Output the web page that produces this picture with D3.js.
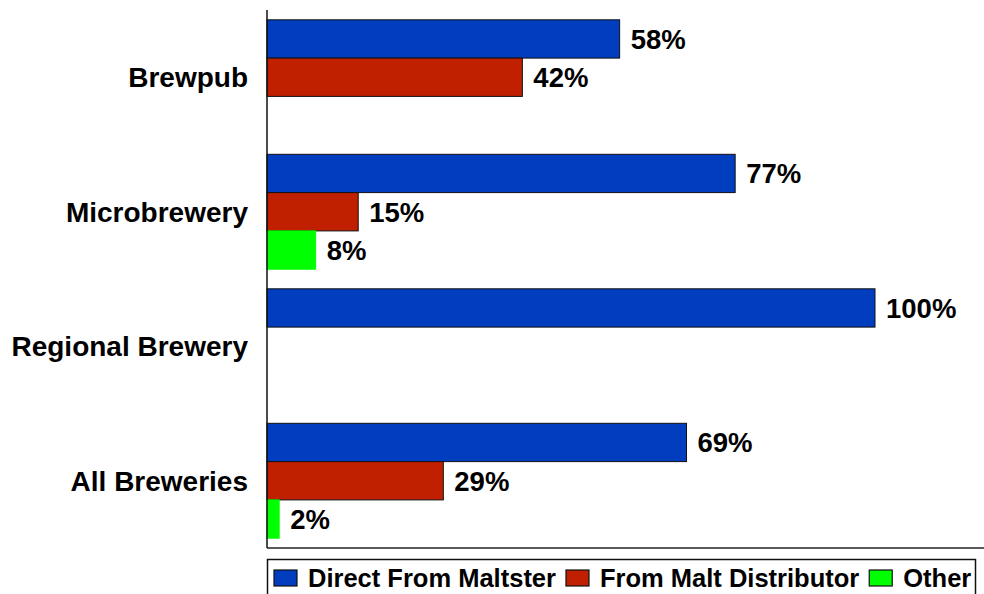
<!DOCTYPE html>
<html><head><meta charset="utf-8">
<script src="https://cdn.jsdelivr.net/npm/d3@7"></script>
<style>html,body{margin:0;padding:0;background:#fff;}svg{display:block;}</style>
</head><body>
<svg id="chart" width="984" height="594"></svg>
<script>
const categories = ["Brewpub", "Microbrewery", "Regional Brewery", "All Breweries"];
const seriesNames = ["Direct From Maltster", "From Malt Distributor", "Other"];
const directFromMaltster = [58, 77, 100, 69];
const fromMaltDistributor = [42, 15, null, 29];
const other = [null, 8, null, 2];
const seriesValues = [directFromMaltster, fromMaltDistributor, other];
const colors = ["#003DBF", "#C02000", "#00FF00"];
const strokes = ["#111", "#111", "#00FF00"];

const svg = d3.select("#chart");
const font = "'Liberation Sans', Arial, sans-serif";
const plotLeft = 267, plotRight = 875, plotTop = 10, plotBottom = 548;

const x = d3.scaleLinear().domain([0, 100]).range([plotLeft, plotRight]);
const y0 = d3.scaleBand().domain(categories).range([plotTop, plotBottom]).paddingInner(0).paddingOuter(0);
const y1 = d3.scaleBand().domain(seriesNames).range([0, y0.bandwidth()]).paddingInner(0).paddingOuter(0.256);

const data = [];
categories.forEach((c, i) => {
  seriesNames.forEach((s, j) => {
    const v = seriesValues[j][i];
    if (v != null) data.push({c, s, j, v});
  });
});

svg.selectAll("rect.bar").data(data).join("rect")
  .attr("class", "bar")
  .attr("x", x(0))
  .attr("y", d => y0(d.c) + y1(d.s))
  .attr("width", d => x(d.v) - x(0))
  .attr("height", y1.bandwidth())
  .attr("fill", d => colors[d.j])
  .attr("stroke", d => strokes[d.j])
  .attr("stroke-width", 1);

svg.selectAll("text.val").data(data).join("text")
  .attr("class", "val")
  .attr("x", d => x(d.v) + 11)
  .attr("y", d => y0(d.c) + y1(d.s) + y1.bandwidth() / 2)
  .attr("dy", "0.36em")
  .attr("font-family", font).attr("font-weight", "bold").attr("font-size", 27.5)
  .attr("fill", "#000")
  .text(d => d.v + "%");

// y axis
const yAxis = d3.axisLeft(y0).tickSize(0).tickPadding(19);
const gy = svg.append("g").attr("transform", `translate(${plotLeft},0)`).call(yAxis);
gy.select(".domain").remove();
gy.selectAll("text").attr("font-family", font).attr("font-weight", "bold").attr("font-size", 28).attr("fill", "#000").attr("dy", "0.36em");

svg.append("line").attr("x1", plotLeft).attr("x2", plotLeft).attr("y1", plotTop).attr("y2", plotBottom)
  .attr("stroke", "#111").attr("stroke-width", 1.5);
svg.append("line").attr("x1", plotLeft).attr("x2", 984).attr("y1", plotBottom).attr("y2", plotBottom)
  .attr("stroke", "#222").attr("stroke-width", 1.5);

// legend
const lg = svg.append("g");
lg.append("rect").attr("x", 267.5).attr("y", 559.5).attr("width", 708).attr("height", 40)
  .attr("fill", "#fff").attr("stroke", "#111").attr("stroke-width", 1.5);
let lx = 274;
seriesNames.forEach((s, j) => {
  lg.append("rect").attr("x", lx).attr("y", 570).attr("width", 23).attr("height", 16)
    .attr("fill", colors[j]).attr("stroke", "#111").attr("stroke-width", 1.2);
  const t = lg.append("text").attr("x", lx + 34).attr("y", 578).attr("dy", "0.36em")
    .attr("font-family", font).attr("font-weight", "bold").attr("font-size", 25.5)
    .attr("fill", "#000").text(s);
  lx = lx + 34 + t.node().getComputedTextLength() + 10;
});
</script>
</body></html>
